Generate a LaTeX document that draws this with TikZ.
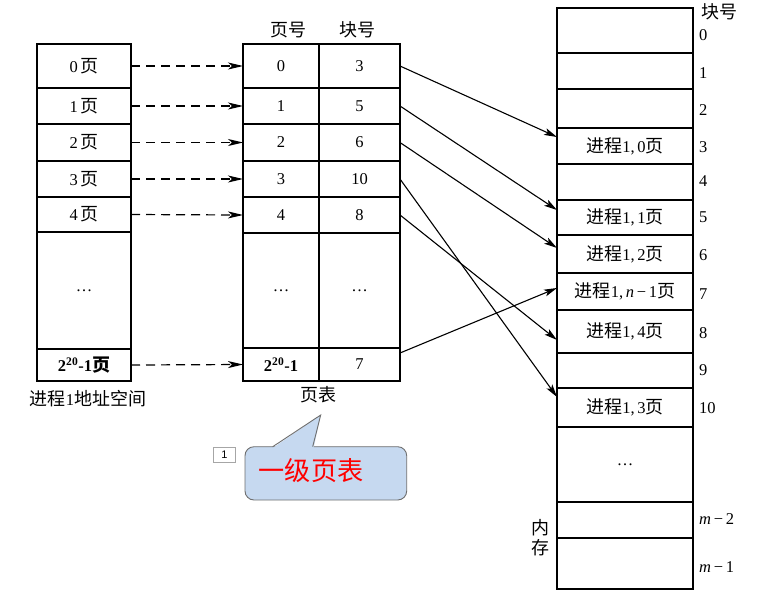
\documentclass[tikz,border=0pt]{standalone}
\usepackage{fontspec}
\setmainfont{Liberation Serif}
\newfontfamily\cjk[Scale=1.09]{Noto Sans CJK SC}
\newfontfamily\lsans{Liberation Sans}
\usetikzlibrary{arrows.meta}
\newcommand\cj[1]{{\cjk #1}}
\definecolor{callfill}{RGB}{198,217,240}
\definecolor{callline}{RGB}{110,110,110}
\begin{document}
\begin{tikzpicture}[x=1pt,y=-1pt,
  cell/.style={draw,line width=1.3pt,inner sep=0pt,outer sep=0pt,anchor=north west,font=\fontsize{16.5}{19}\selectfont},
  lw/.style={minimum width=94pt},
  pw/.style={minimum width=76pt},
  bw/.style={minimum width=81pt},
  mw/.style={minimum width=136pt},
  lbl/.style={inner sep=0pt,font=\fontsize{16.5}{19}\selectfont},
  num/.style={inner sep=0pt,anchor=west,font=\fontsize{16.5}{19}\selectfont},
  arr/.style={line width=1.1pt,-{Stealth[length=13pt,width=7pt,inset=3pt]}},
  dasharr/.style={line width=1.2pt,dash pattern=on 9pt off 6pt,-{Stealth[length=15pt,width=7pt,inset=4pt]}}]
\useasboundingbox (0,0) rectangle (760,598);
% left column
\node[cell,lw,minimum height=44pt] (L0) at (37,44) {0\,\cj{页}};
\node[cell,lw,minimum height=36pt] (L1) at (37,88) {1\,\cj{页}};
\node[cell,lw,minimum height=37pt] (L2) at (37,124) {2\,\cj{页}};
\node[cell,lw,minimum height=36pt] (L3) at (37,161) {3\,\cj{页}};
\node[cell,lw,minimum height=35pt] (L4) at (37,197) {4\,\cj{页}};
\node[cell,lw,minimum height=117pt] (Ld) at (37,232) {\dots};
\node[cell,lw,minimum height=32pt] (Ln) at (37,349) {\bfseries 2\textsuperscript{20}-1\cj{页}};
\node[lbl] (Lcap) at (88,399) {\cj{进程}1\cj{地址空间}};
% page table
\node[lbl] (Hp) at (288,30) {\cj{页号}};
\node[lbl] (Hb) at (357,30) {\cj{块号}};
\node[cell,pw,minimum height=44pt] (P0) at (243,44) {0};
\node[cell,bw,minimum height=44pt] (B0) at (319,44) {3};
\node[cell,pw,minimum height=36pt] (P1) at (243,88) {1};
\node[cell,bw,minimum height=36pt] (B1) at (319,88) {5};
\node[cell,pw,minimum height=37pt] (P2) at (243,124) {2};
\node[cell,bw,minimum height=37pt] (B2) at (319,124) {6};
\node[cell,pw,minimum height=36pt] (P3) at (243,161) {3};
\node[cell,bw,minimum height=36pt] (B3) at (319,161) {10};
\node[cell,pw,minimum height=36pt] (P4) at (243,197) {4};
\node[cell,bw,minimum height=36pt] (B4) at (319,197) {8};
\node[cell,pw,minimum height=115pt] (Pd) at (243,233) {\dots};
\node[cell,bw,minimum height=115pt] (Bd) at (319,233) {\dots};
\node[cell,pw,minimum height=33pt] (Pn) at (243,348) {\bfseries 2\textsuperscript{20}-1};
\node[cell,bw,minimum height=33pt] (Bn) at (319,348) {7};
\node[lbl] (Pcap) at (318,395) {\cj{页表}};
% memory
\node[cell,mw,minimum height=45pt] (M0) at (557,8) {};
\node[cell,mw,minimum height=36pt] (M1) at (557,53) {};
\node[cell,mw,minimum height=39pt] (M2) at (557,89) {};
\node[cell,mw,minimum height=36pt] (M3) at (557,128) {\cj{进程}1,\,0\cj{页}};
\node[cell,mw,minimum height=36pt] (M4) at (557,164) {};
\node[cell,mw,minimum height=35pt] (M5) at (557,200) {\cj{进程}1,\,1\cj{页}};
\node[cell,mw,minimum height=38pt] (M6) at (557,235) {\cj{进程}1,\,2\cj{页}};
\node[cell,mw,minimum height=37pt] (M7) at (557,273) {\cj{进程}1,\,{\itshape n}\,−\,1\cj{页}};
\node[cell,mw,minimum height=43pt] (M8) at (557,310) {\cj{进程}1,\,4\cj{页}};
\node[cell,mw,minimum height=35pt] (M9) at (557,353) {};
\node[cell,mw,minimum height=39pt] (M10) at (557,388) {\cj{进程}1,\,3\cj{页}};
\node[cell,mw,minimum height=75pt] (Md) at (557,427) {\dots};
\node[cell,mw,minimum height=36pt] (Mm2) at (557,502) {};
\node[cell,mw,minimum height=51pt] (Mm1) at (557,538) {};
\node[lbl] (Hm) at (719,12) {\cj{块号}};
\node[num] (n0) at (699,35) {0};
\node[num] (n1) at (699,73) {1};
\node[num] (n2) at (699,110) {2};
\node[num] (n3) at (699,147) {3};
\node[num] (n4) at (699,181) {4};
\node[num] (n5) at (699,217) {5};
\node[num] (n6) at (699,255) {6};
\node[num] (n7) at (699,294) {7};
\node[num] (n8) at (699,333) {8};
\node[num] (n9) at (699,370) {9};
\node[num] (n10) at (699,408) {10};
\node[num] (nm2) at (699,519) {{\itshape m}\,−\,2};
\node[num] (nm1) at (699,567) {{\itshape m}\,−\,1};
\node[lbl] (Nei) at (540,528) {\cj{内}};
\node[lbl] (Cun) at (540,548) {\cj{存}};
% dashed arrows
\draw[dasharr] (L0.east) -- (P0.west);
\draw[dasharr] (L1.east) -- (P1.west);
\draw[dasharr] (L2.east) -- (P2.west);
\draw[dasharr] (L3.east) -- (P3.west);
\draw[dasharr] (L4.east) -- (P4.west);
\draw[dasharr] (Ln.east) -- (Pn.west);
% solid arrows
\draw[arr] (B0.east) -- ([yshift=-9pt]M3.north west);
\draw[arr] (B1.east) -- ([yshift=-10pt]M5.north west);
\draw[arr] (B2.east) -- ([yshift=-13pt]M6.north west);
\draw[arr] (B3.east) -- ([yshift=-9pt]M10.north west);
\draw[arr] (B4.east) -- ([yshift=-30pt]M8.north west);
\draw[arr] ([yshift=-5pt]Bn.north east) -- ([yshift=-15pt]M7.north west);
% callout
\draw[fill=callfill,draw=callline,line width=0.9pt,rounded corners=9pt] (245,446.7) rectangle (406.7,500);
\fill[callfill] (272,448.5) -- (320.7,415) -- (313.5,448.5) -- cycle;
\draw[draw=callline,line width=0.9pt] (272.7,446.7) -- (320.7,415) -- (312.7,446.7);
\node[inner sep=0pt,text=red,font=\cjk\fontsize{24}{28}\selectfont] (Call) at (311,471) {一级页表};
\node[draw=gray!70,fill=white,line width=0.6pt,inner sep=0pt,minimum width=22pt,minimum height=14.5pt,font=\lsans\fontsize{11}{12}\selectfont] (Tag) at (224.5,455) {1};
\end{tikzpicture}
\end{document}
